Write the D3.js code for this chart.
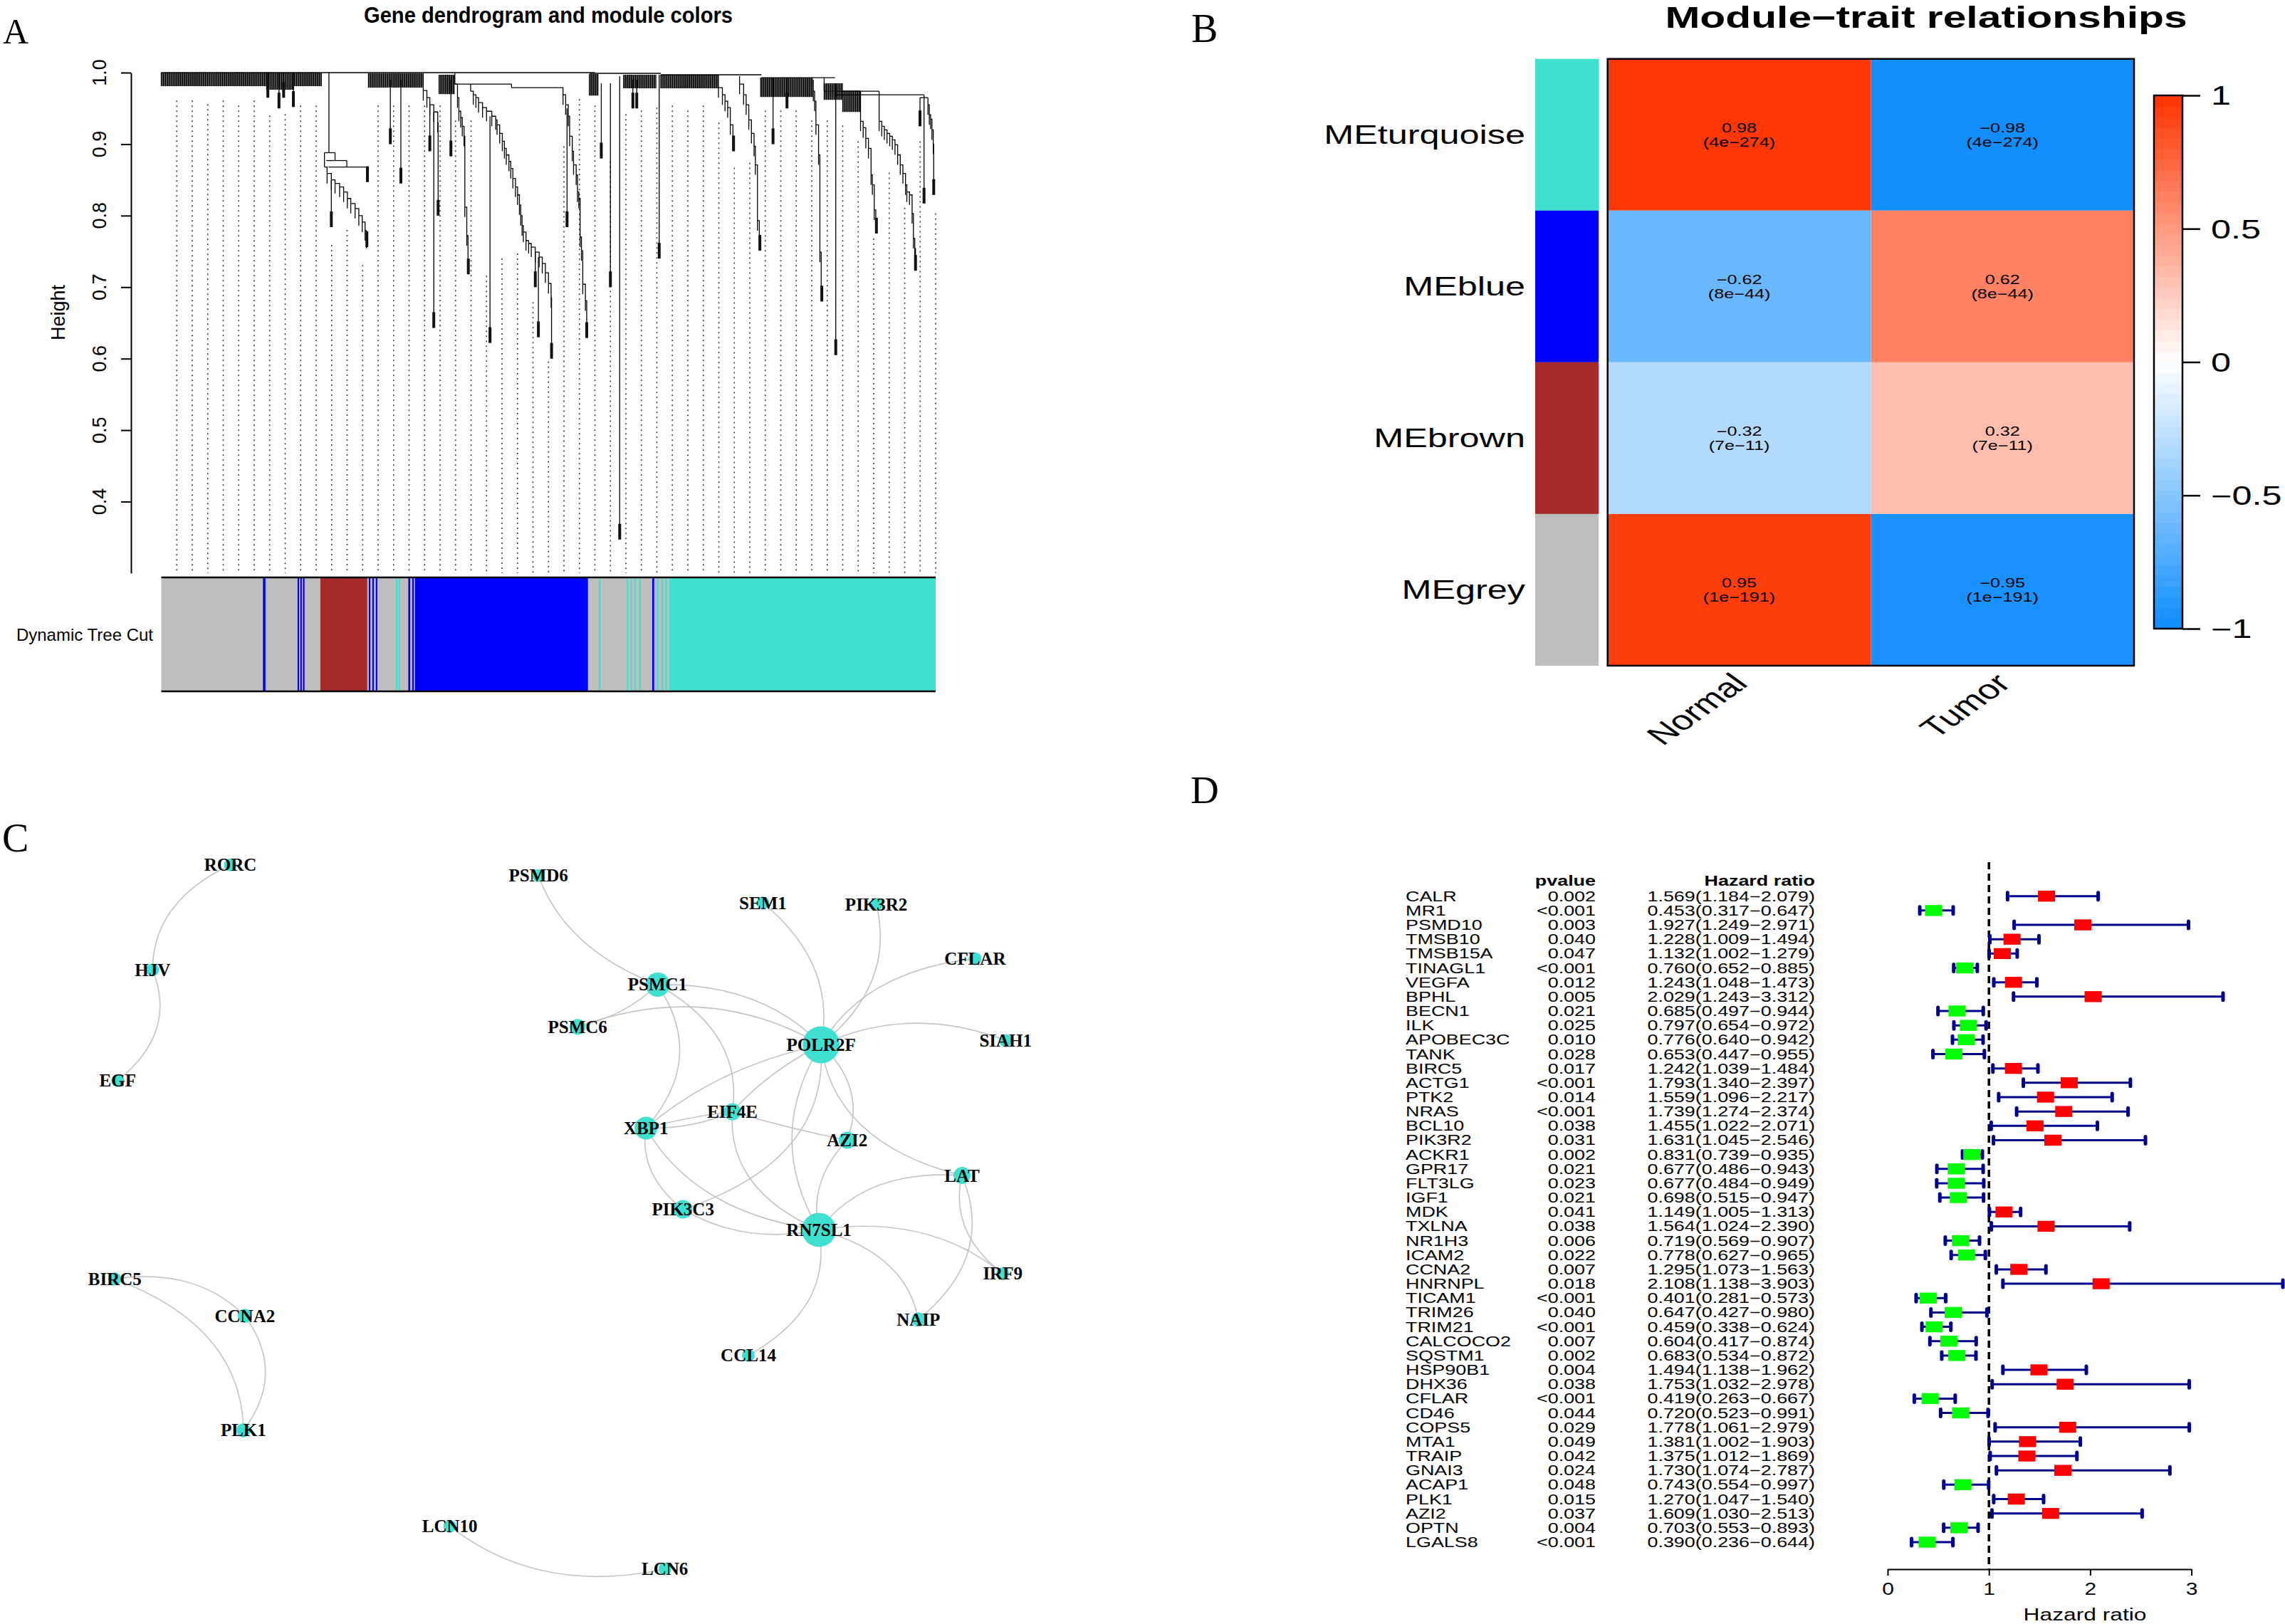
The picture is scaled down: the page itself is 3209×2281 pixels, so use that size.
<!DOCTYPE html>
<html>
<head>
<meta charset="utf-8">
<script src="https://cdn.jsdelivr.net/npm/d3@7"></script>
<style>
  body { margin: 0; background: #fff; }
  svg { display: block; }
</style>
</head>
<body>
<svg id="fig" width="3209" height="2281"></svg>
<script>
// ---------- panel A : dendrogram + module colours ----------
const heightTicks = [0.4, 0.5, 0.6, 0.7, 0.8, 0.9, 1.0];

// top of each of the 50 dotted guide lines (height units)
const guideTops = [0.965, 0.965, 0.96, 0.965, 0.958, 0.965, 0.944, 0.946, 0.958, 0.958,
  0.763, 0.784, 0.735, 0.958, 0.958, 0.958, 0.958, 0.958, 0.937, 0.937,
  0.72, 0.744, 0.751, 0.683, 0.60, 0.901, 0.967, 0.958, 0.88, 0.946,
  0.951, 0.955, 0.958, 0.951, 0.958, 0.934, 0.871, 0.878, 0.951, 0.951,
  0.951, 0.937, 0.937, 0.93, 0.908, 0.772, 0.864, 0.815, 0.908, 0.807];

// dense runs of short leaves: [from, to, merge height, leaf bottom]
const fringe = [
  [0.000, 0.136, 1.000, 0.981], [0.136, 0.172, 1.000, 0.976], [0.172, 0.207, 1.000, 0.981],
  [0.2675, 0.338, 0.999, 0.979], [0.3587, 0.379, 0.997, 0.970],
  [0.5528, 0.565, 0.998, 0.968], [0.597, 0.640, 0.997, 0.978], [0.645, 0.720, 0.997, 0.978],
  [0.774, 0.842, 0.993, 0.966], [0.856, 0.880, 0.985, 0.962], [0.880, 0.903, 0.975, 0.945]
];

// horizontal merges: [from, to, height]
const tops = [
  [0.000, 0.560, 1.000], [0.553, 0.645, 0.999], [0.645, 0.775, 0.997], [0.775, 0.870, 0.993],
  [0.3791, 0.4523, 0.984], [0.4523, 0.5154, 0.979], [0.856, 0.927, 0.974], [0.871, 0.985, 0.969],
  [0.9798, 0.9901, 0.965], [0.2107, 0.2244, 0.888], [0.2130, 0.2396, 0.877], [0.2160, 0.2662, 0.868]
];

// plain connectors: [pos, top, bottom]
const links = [
  [0.2165, 1.0, 0.888], [0.2244, 0.888, 0.877], [0.2396, 0.877, 0.868], [0.2107, 0.888, 0.868],
  [0.3791, 1.0, 0.984], [0.4523, 0.984, 0.979], [0.927, 0.974, 0.969], [0.856, 0.993, 0.974],
  [0.985, 0.969, 0.965], [0.3995, 0.984, 0.974]
];

// single branches ending in a leaf block: [pos, top, bottom]
const drops = [
  [0.1376, 1.0, 0.965], [0.152, 1.0, 0.95], [0.158, 1.0, 0.965], [0.1706, 1.0, 0.952],
  [0.2662, 0.868, 0.847], [0.2196, 0.850, 0.784],
  [0.2958, 0.99, 0.90], [0.3094, 0.99, 0.845], [0.3468, 0.955, 0.89], [0.3519, 0.945, 0.643],
  [0.374, 0.99, 0.883], [0.4245, 0.939, 0.622], [0.4870, 0.742, 0.63], [0.4830, 0.749, 0.70],
  [0.524, 0.95, 0.784], [0.5682, 0.985, 0.88], [0.58, 0.985, 0.70], [0.592, 0.995, 0.347],
  [0.609, 0.99, 0.95], [0.614, 0.99, 0.95], [0.643, 0.997, 0.74],
  [0.790, 0.993, 0.90], [0.808, 0.993, 0.95], [0.871, 0.985, 0.605],
  [0.9798, 0.965, 0.925], [0.985, 0.965, 0.817]
];

// cascading clusters: merge points [pos, height] from top to last leaf
const stairs = [
  [[0.2107, 0.868], [0.2141, 0.859], [0.2196, 0.850], [0.2244, 0.845], [0.2303, 0.840], [0.2355, 0.833],
   [0.2403, 0.824], [0.2447, 0.817], [0.2503, 0.810], [0.2551, 0.800], [0.2595, 0.791], [0.2632, 0.779],
   [0.2650, 0.768], [0.2655, 0.756]],
  [[0.3383, 0.999], [0.3383, 0.975], [0.3430, 0.965], [0.3468, 0.955], [0.3519, 0.945], [0.3570, 0.930], [0.3575, 0.800]],
  [[0.3791, 0.984], [0.3825, 0.965], [0.3843, 0.946], [0.3867, 0.937], [0.3887, 0.925], [0.3910, 0.911],
   [0.3920, 0.812], [0.3945, 0.772], [0.3961, 0.735], [0.3965, 0.718]],
  [[0.3995, 0.974], [0.4029, 0.969], [0.4063, 0.965], [0.4097, 0.958], [0.4149, 0.951], [0.4200, 0.946],
   [0.4268, 0.939], [0.4319, 0.934], [0.4336, 0.927], [0.4370, 0.915], [0.4404, 0.904], [0.4431, 0.894],
   [0.4455, 0.885], [0.4489, 0.876], [0.4513, 0.866], [0.4540, 0.852], [0.4574, 0.840], [0.4601, 0.829],
   [0.4625, 0.815], [0.4642, 0.800], [0.4659, 0.786], [0.4676, 0.777], [0.4710, 0.765], [0.4744, 0.761],
   [0.4778, 0.756], [0.4829, 0.749], [0.4880, 0.742], [0.4920, 0.733], [0.4960, 0.720], [0.5000, 0.705],
   [0.5034, 0.685], [0.5040, 0.600]],
  [[0.5154, 0.979], [0.5188, 0.969], [0.5222, 0.955], [0.5256, 0.939], [0.5273, 0.911], [0.5307, 0.890],
   [0.5324, 0.871], [0.5358, 0.857], [0.5375, 0.833], [0.5392, 0.824], [0.5409, 0.770], [0.5426, 0.751],
   [0.5443, 0.704], [0.5477, 0.681], [0.5494, 0.629]],
  [[0.7195, 0.997], [0.7195, 0.979], [0.7246, 0.969], [0.7280, 0.960], [0.7314, 0.951], [0.7348, 0.927],
   [0.7382, 0.908], [0.7390, 0.890]],
  [[0.7468, 0.995], [0.7468, 0.984], [0.7520, 0.969], [0.7553, 0.955], [0.7587, 0.934], [0.7621, 0.915],
   [0.7655, 0.897], [0.7672, 0.871], [0.7699, 0.793], [0.7723, 0.768], [0.7730, 0.751]],
  [[0.842, 0.99], [0.842, 0.974], [0.8437, 0.960], [0.8454, 0.927], [0.8488, 0.885], [0.8505, 0.749],
   [0.8522, 0.697], [0.8530, 0.680]],
  [[0.903, 0.974], [0.903, 0.932], [0.9064, 0.923], [0.9098, 0.908], [0.9132, 0.894], [0.9166, 0.857],
   [0.9183, 0.843], [0.9207, 0.808], [0.9227, 0.791], [0.9235, 0.775]],
  [[0.927, 0.969], [0.927, 0.932], [0.9304, 0.925], [0.9338, 0.920], [0.9372, 0.915], [0.9407, 0.911],
   [0.9441, 0.906], [0.9475, 0.899], [0.9509, 0.885], [0.9543, 0.871], [0.9577, 0.859], [0.9611, 0.843],
   [0.9628, 0.833], [0.9662, 0.829], [0.9696, 0.803], [0.9713, 0.768], [0.9730, 0.754], [0.9740, 0.723]],
  [[0.9901, 0.965], [0.9901, 0.955], [0.9918, 0.941], [0.9935, 0.935], [0.9952, 0.920], [0.9969, 0.900], [0.9975, 0.829]]
];

const grey = "#BEBEBE", blue = "#0000FF", brown = "#A52A2A", turq = "#40E0D0";
// module colour strip: [from, to, colour]
const colorSegs = [
  [0, 1, grey],
  [0.1313, 0.1345, blue], [0.1760, 0.1780, blue], [0.1795, 0.1815, blue], [0.1830, 0.1850, blue],
  [0.2055, 0.2660, brown],
  [0.2680, 0.2700, blue], [0.2725, 0.2745, blue], [0.2770, 0.2790, blue],
  [0.3030, 0.3050, turq], [0.3065, 0.3085, turq],
  [0.3190, 0.3215, blue], [0.3240, 0.3260, blue], [0.3275, 0.5510, blue],
  [0.5650, 0.5670, turq], [0.6010, 0.6030, turq], [0.6060, 0.6080, turq], [0.6110, 0.6130, turq],
  [0.6170, 0.6190, turq], [0.6340, 0.6365, blue],
  [0.6400, 0.6420, turq], [0.6460, 0.6480, turq], [0.6510, 0.6530, turq], [0.6560, 1.0, turq]
];

// ---------- panel B : module-trait heatmap ----------
const modules = ["MEturquoise", "MEblue", "MEbrown", "MEgrey"];
const moduleColors = [turq, blue, brown, grey];
const traits = ["Normal", "Tumor"];
const corNormal = [0.98, -0.62, -0.32, 0.95];
const corTumor = [-0.98, 0.62, 0.32, -0.95];
const pNormal = ["4e\u2212274", "8e\u221244", "7e\u221211", "1e\u2212191"];
const pTumor = ["4e\u2212274", "8e\u221244", "7e\u221211", "1e\u2212191"];
const keyTicks = [-1, -0.5, 0, 0.5, 1];

// ---------- panel C : network ----------
const nodes = [
  { id: "RORC", x: 317, y: 128, r: 9 }, { id: "HJV", x: 210, y: 327, r: 9 },
  { id: "EGF", x: 162, y: 537, r: 9 }, { id: "PSMD6", x: 741, y: 148, r: 9 },
  { id: "SEM1", x: 1050, y: 200, r: 9 }, { id: "PIK3R2", x: 1206, y: 203, r: 9 },
  { id: "CFLAR", x: 1342, y: 306, r: 9 }, { id: "PSMC1", x: 905, y: 355, r: 17 },
  { id: "PSMC6", x: 795, y: 435, r: 11 }, { id: "POLR2F", x: 1130, y: 469, r: 26 },
  { id: "SIAH1", x: 1384, y: 461, r: 9 }, { id: "EIF4E", x: 1008, y: 596, r: 12 },
  { id: "XBP1", x: 889, y: 627, r: 16 }, { id: "AZI2", x: 1166, y: 650, r: 12 },
  { id: "LAT", x: 1324, y: 717, r: 12 }, { id: "PIK3C3", x: 940, y: 781, r: 13 },
  { id: "RN7SL1", x: 1127, y: 820, r: 24 }, { id: "IRF9", x: 1380, y: 903, r: 9 },
  { id: "NAIP", x: 1264, y: 990, r: 10 }, { id: "CCL14", x: 1030, y: 1058, r: 9 },
  { id: "BIRC5", x: 158, y: 913, r: 9 }, { id: "CCNA2", x: 337, y: 983, r: 10 },
  { id: "PLK1", x: 335, y: 1200, r: 10 }, { id: "LCN10", x: 619, y: 1382, r: 9 },
  { id: "LCN6", x: 915, y: 1463, r: 9 }
];
// [source, target, bend]
const edges = [
  ["RORC", "HJV", 0.27], ["HJV", "EGF", -0.28], ["PSMD6", "PSMC1", 0.22], ["SEM1", "POLR2F", -0.23],
  ["PIK3R2", "POLR2F", -0.245], ["CFLAR", "POLR2F", 0.28], ["PSMC1", "POLR2F", -0.27],
  ["PSMC6", "POLR2F", -0.32], ["PSMC6", "PSMC1", 0.16], ["SIAH1", "POLR2F", 0.29],
  ["PSMC1", "XBP1", -0.28], ["PSMC1", "EIF4E", -0.28], ["POLR2F", "EIF4E", 0.1],
  ["POLR2F", "XBP1", 0.15], ["POLR2F", "AZI2", -0.25], ["POLR2F", "LAT", 0.32],
  ["POLR2F", "RN7SL1", 0.22], ["POLR2F", "PIK3C3", -0.34], ["XBP1", "EIF4E", 0.15],
  ["XBP1", "EIF4E", -0.05], ["EIF4E", "AZI2", 0.03], ["EIF4E", "RN7SL1", 0.3],
  ["XBP1", "PIK3C3", 0.23], ["XBP1", "RN7SL1", 0.27], ["PIK3C3", "RN7SL1", 0.26],
  ["AZI2", "RN7SL1", 0.2], ["LAT", "RN7SL1", 0.33], ["LAT", "NAIP", -0.28], ["LAT", "IRF9", 0.25],
  ["RN7SL1", "IRF9", -0.29], ["RN7SL1", "NAIP", -0.3], ["RN7SL1", "CCL14", -0.29],
  ["BIRC5", "CCNA2", -0.32], ["BIRC5", "PLK1", -0.3], ["CCNA2", "PLK1", -0.27], ["LCN10", "LCN6", 0.31]
];

// ---------- panel D : Cox forest plot ----------
const genes = ["CALR", "MR1", "PSMD10", "TMSB10", "TMSB15A", "TINAGL1", "VEGFA", "BPHL", "BECN1", "ILK",
  "APOBEC3C", "TANK", "BIRC5", "ACTG1", "PTK2", "NRAS", "BCL10", "PIK3R2", "ACKR1", "GPR17", "FLT3LG",
  "IGF1", "MDK", "TXLNA", "NR1H3", "ICAM2", "CCNA2", "HNRNPL", "TICAM1", "TRIM26", "TRIM21", "CALCOCO2",
  "SQSTM1", "HSP90B1", "DHX36", "CFLAR", "CD46", "COPS5", "MTA1", "TRAIP", "GNAI3", "ACAP1", "PLK1",
  "AZI2", "OPTN", "LGALS8"];
const pvals = ["0.002", "<0.001", "0.003", "0.040", "0.047", "<0.001", "0.012", "0.005", "0.021", "0.025",
  "0.010", "0.028", "0.017", "<0.001", "0.014", "<0.001", "0.038", "0.031", "0.002", "0.021", "0.023",
  "0.021", "0.041", "0.038", "0.006", "0.022", "0.007", "0.018", "<0.001", "0.040", "<0.001", "0.007",
  "0.002", "0.004", "0.038", "<0.001", "0.044", "0.029", "0.049", "0.042", "0.024", "0.048", "0.015",
  "0.037", "0.004", "<0.001"];
const hr = [1.569, 0.453, 1.927, 1.228, 1.132, 0.760, 1.243, 2.029, 0.685, 0.797, 0.776, 0.653, 1.242,
  1.793, 1.559, 1.739, 1.455, 1.631, 0.831, 0.677, 0.677, 0.698, 1.149, 1.564, 0.719, 0.778, 1.295,
  2.108, 0.401, 0.647, 0.459, 0.604, 0.683, 1.494, 1.753, 0.419, 0.720, 1.778, 1.381, 1.375, 1.730,
  0.743, 1.270, 1.609, 0.703, 0.390];
const hrLow = [1.184, 0.317, 1.249, 1.009, 1.002, 0.652, 1.048, 1.243, 0.497, 0.654, 0.640, 0.447, 1.039,
  1.340, 1.096, 1.274, 1.022, 1.045, 0.739, 0.486, 0.484, 0.515, 1.005, 1.024, 0.569, 0.627, 1.073,
  1.138, 0.281, 0.427, 0.338, 0.417, 0.534, 1.138, 1.032, 0.263, 0.523, 1.061, 1.002, 1.012, 1.074,
  0.554, 1.047, 1.030, 0.553, 0.236];
const hrHigh = [2.079, 0.647, 2.971, 1.494, 1.279, 0.885, 1.473, 3.312, 0.944, 0.972, 0.942, 0.955, 1.484,
  2.397, 2.217, 2.374, 2.071, 2.546, 0.935, 0.943, 0.949, 0.947, 1.313, 2.390, 0.907, 0.965, 1.563,
  3.903, 0.573, 0.980, 0.624, 0.874, 0.872, 1.962, 2.978, 0.667, 0.991, 2.979, 1.903, 1.869, 2.787,
  0.997, 1.540, 2.513, 0.893, 0.644];
const hrTicks = [0, 1, 2, 3];

// =====================================================================
const svg = d3.select("#fig");
const sans = "'Liberation Sans', Arial, sans-serif";
const serif = "'Liberation Serif', 'Times New Roman', serif";

// panel letters
const letters = [["A", 4, 61, 50], ["B", 1673, 59, 56], ["C", 3, 1196, 56], ["D", 1672, 1128, 55]];
svg.selectAll(".panel-letter").data(letters).join("text")
  .attr("x", d => d[1]).attr("y", d => d[2])
  .attr("font-family", serif).attr("font-size", d => d[3])
  .text(d => d[0]);

// ---------------- panel A ----------------
const xA = d3.scaleLinear().domain([0, 1]).range([226.5, 1314]);
const yA = d3.scaleLinear().domain([0.3, 1.0]).range([805, 102]);
const gA = svg.append("g");

gA.append("text").attr("x", 770).attr("y", 32)
  .attr("text-anchor", "middle").attr("font-family", sans).attr("font-weight", "bold")
  .attr("font-size", 31).attr("transform", "translate(770,0) scale(0.94,1) translate(-770,0)")
  .text("Gene dendrogram and module colors");

const axA = gA.append("g").attr("transform", "translate(184,0)")
  .call(d3.axisLeft(yA).tickValues(heightTicks).tickSize(14).tickSizeOuter(0).tickFormat(""));
axA.selectAll("path, line").attr("stroke", "#000").attr("stroke-width", 2);

gA.selectAll(".ylab").data(heightTicks).join("text")
  .attr("transform", d => `translate(149,${yA(d)}) rotate(-90)`)
  .attr("text-anchor", "middle").attr("font-family", sans).attr("font-size", 27)
  .text(d3.format(".1f"));

gA.append("text").attr("transform", "translate(91,439) rotate(-90)")
  .attr("text-anchor", "middle").attr("font-family", sans).attr("font-size", 27).text("Height");

// guide lines
gA.selectAll(".guide").data(guideTops).join("line")
  .attr("x1", (d, i) => xA((i + 1) / 50)).attr("x2", (d, i) => xA((i + 1) / 50))
  .attr("y1", d => yA(d) + 4).attr("y2", yA(0.3))
  .attr("stroke", "#3a3a3a").attr("stroke-width", 1.6).attr("stroke-dasharray", "2,5");

const dend = gA.append("g").attr("stroke", "#000").attr("stroke-width", 1.3).attr("fill", "none");
const leafStep = 1 / 720;
fringe.forEach(([f0, f1, ht, hb]) => {
  dend.append("g").selectAll("line").data(d3.range(f0, f1, leafStep)).join("line")
    .attr("x1", d => xA(d)).attr("x2", d => xA(d))
    .attr("y1", yA(ht)).attr("y2", yA(hb));
});
dend.selectAll(".top").data(tops).join("line")
  .attr("x1", d => xA(d[0])).attr("x2", d => xA(d[1]))
  .attr("y1", d => yA(d[2])).attr("y2", d => yA(d[2]));
dend.selectAll(".link").data(links).join("line")
  .attr("x1", d => xA(d[0])).attr("x2", d => xA(d[0]))
  .attr("y1", d => yA(d[1])).attr("y2", d => yA(d[2]));
dend.selectAll(".drop").data(drops).join("line")
  .attr("x1", d => xA(d[0])).attr("x2", d => xA(d[0]))
  .attr("y1", d => yA(d[1])).attr("y2", d => yA(d[2]));

const ends = drops.map(d => [d[0], d[2]]);
stairs.forEach(pts => {
  const p = d3.path();
  for (let i = 0; i < pts.length - 1; i++) {
    const [f, h] = pts[i], [fn, hn] = pts[i + 1];
    p.moveTo(xA(f), yA(h)); p.lineTo(xA(fn), yA(h)); p.lineTo(xA(fn), yA(hn));
    if (i > 0) { p.moveTo(xA(f), yA(h)); p.lineTo(xA(f), yA(h - 0.014)); }
  }
  dend.append("path").attr("d", p.toString());
  ends.push(pts[pts.length - 1]);
});
gA.selectAll(".leafend").data(ends).join("rect")
  .attr("x", d => xA(d[0]) - 2).attr("width", 4)
  .attr("y", d => yA(d[1] + 0.022)).attr("height", d => yA(d[1]) - yA(d[1] + 0.022))
  .attr("fill", "#111");

// module colour strip
const stripTop = 811, stripBot = 971;
gA.selectAll(".seg").data(colorSegs).join("rect")
  .attr("x", d => xA(d[0])).attr("width", d => Math.max(2, xA(d[1]) - xA(d[0])))
  .attr("y", stripTop).attr("height", stripBot - stripTop)
  .attr("fill", d => d[2]);
gA.selectAll(".stripline").data([stripTop, stripBot]).join("line")
  .attr("x1", xA(0)).attr("x2", xA(1)).attr("y1", d => d).attr("y2", d => d)
  .attr("stroke", "#000").attr("stroke-width", 2.5);
gA.append("text").attr("x", 215).attr("y", 900).attr("text-anchor", "end")
  .attr("font-family", "'Liberation Sans Narrow', 'Arial Narrow', sans-serif").attr("font-size", 24)
  .text("Dynamic Tree Cut");

// ---------------- panel B ----------------
const gB = svg.append("g");
const sxB = 1.4;
const yB = d3.scaleBand().domain(modules).range([82.7, 935]);
const xB = d3.scaleBand().domain(traits).range([2257.7, 2997]);
const heat = d3.scaleLinear().domain([-1, 0, 1]).range(["#0D8CFF", "#FFFFFF", "#FF3300"]);
const cells = modules.flatMap((m, i) => traits.map((t, j) => ({
  m, t, r: j === 0 ? corNormal[i] : corTumor[i], p: j === 0 ? pNormal[i] : pTumor[i]
})));

gB.append("text")
  .attr("transform", `translate(2705,39) scale(${sxB},1)`)
  .attr("text-anchor", "middle").attr("font-family", sans).attr("font-weight", "bold")
  .attr("font-size", 42).text("Module\u2212trait relationships");

gB.selectAll(".mod").data(modules).join("rect")
  .attr("x", 2156).attr("width", 89)
  .attr("y", d => yB(d)).attr("height", yB.bandwidth())
  .attr("fill", (d, i) => moduleColors[i]);

gB.selectAll(".cell").data(cells).join("rect")
  .attr("x", d => xB(d.t)).attr("width", xB.bandwidth())
  .attr("y", d => yB(d.m)).attr("height", yB.bandwidth())
  .attr("fill", d => heat(d.r));
gB.append("rect").attr("x", 2257.7).attr("y", 82.7).attr("width", 2997 - 2257.7).attr("height", 935 - 82.7)
  .attr("fill", "none").attr("stroke", "#000").attr("stroke-width", 2.5);

const f2 = d3.format(".2f");
const cellText = gB.selectAll(".ctext").data(cells).join("g")
  .attr("transform", d => `translate(${xB(d.t) + xB.bandwidth() / 2},${yB(d.m) + yB.bandwidth() / 2}) scale(${sxB},1)`)
  .attr("font-family", sans).attr("font-size", 18).attr("text-anchor", "middle");
cellText.append("text").attr("y", -3.5).text(d => f2(d.r));
cellText.append("text").attr("y", 17).text(d => `(${d.p})`);

gB.selectAll(".rowlab").data(modules).join("text")
  .attr("transform", d => `translate(2142,${yB(d) + yB.bandwidth() / 2 + 13}) scale(${sxB},1)`)
  .attr("text-anchor", "end").attr("font-family", sans).attr("font-size", 36).text(d => d);

gB.selectAll(".collab").data(traits).join("text")
  .attr("transform", d => `translate(${xB(d) + xB.bandwidth() / 2 + 14},962) scale(${sxB},1) rotate(-45)`)
  .attr("text-anchor", "end").attr("font-family", sans).attr("font-size", 38).text(d => d);

// colour key
const yKey = d3.scaleLinear().domain([-1, 1]).range([883, 134]);
const keySteps = d3.range(-1, 1 - 1e-9, 0.04);
gB.selectAll(".key").data(keySteps).join("rect")
  .attr("x", 3025).attr("width", 40)
  .attr("y", d => yKey(d + 0.04)).attr("height", d => yKey(d) - yKey(d + 0.04) + 0.6)
  .attr("fill", d => heat(d + 0.02));
gB.append("rect").attr("x", 3025).attr("y", 134).attr("width", 40).attr("height", 883 - 134)
  .attr("fill", "none").attr("stroke", "#000").attr("stroke-width", 2.5);
const keyAx = gB.append("g").attr("transform", "translate(3065,0)")
  .call(d3.axisRight(yKey).tickValues(keyTicks).tickSize(25).tickSizeOuter(0)
    .tickFormat(d => d === 0 ? "0" : d3.format("")(d)));
keyAx.select(".domain").remove();
keyAx.selectAll("line").attr("stroke", "#000").attr("stroke-width", 2.5);
keyAx.selectAll("text").attr("x", 0).attr("dy", "0.36em")
  .attr("transform", `translate(40,0) scale(${sxB},1)`)
  .attr("font-family", sans).attr("font-size", 36).attr("fill", "#000");

// ---------------- panel C ----------------
const gC = svg.append("g");
const xC = d3.scaleLinear().domain([0, 1568]).range([0, 1600]);
const yC = d3.scaleLinear().domain([0, 1568]).range([1120, 2281.5]);
const byId = new Map(nodes.map(n => [n.id, n]));
gC.selectAll(".edge").data(edges).join("path")
  .attr("d", ([s, t, b]) => {
    const a = byId.get(s), c = byId.get(t);
    const dx = c.x - a.x, dy = c.y - a.y;
    const qx = (a.x + c.x) / 2 - dy * b, qy = (a.y + c.y) / 2 + dx * b;
    const p = d3.path();
    p.moveTo(xC(a.x), yC(a.y));
    p.quadraticCurveTo(xC(qx), yC(qy), xC(c.x), yC(c.y));
    return p.toString();
  })
  .attr("fill", "none").attr("stroke", "#C4C4C4").attr("stroke-width", 1.6);
gC.selectAll(".node").data(nodes).join("circle")
  .attr("cx", d => xC(d.x)).attr("cy", d => yC(d.y)).attr("r", d => d.r)
  .attr("fill", turq);
gC.selectAll(".nlab").data(nodes).join("text")
  .attr("x", d => xC(d.x)).attr("y", d => yC(d.y)).attr("dy", "0.34em")
  .attr("text-anchor", "middle").attr("font-family", serif).attr("font-weight", "bold")
  .attr("font-size", 25).text(d => d.id);

// ---------------- panel D ----------------
const gD = svg.append("g");
const sxD = 1.38;
const yD = d3.scalePoint().domain(genes).range([1258.7, 2166]);
const xD = d3.scaleLinear().domain([0, 3]).range([2651, 3077.6]);
const f3 = d3.format(".3f");
const rows = genes.map((g, i) => ({ g, p: pvals[i], hr: hr[i], lo: hrLow[i], hi: hrHigh[i] }));

const hdr = [["pvalue", 2241], ["Hazard ratio", 2549]];
gD.selectAll(".hdr").data(hdr).join("text")
  .attr("transform", d => `translate(${d[1]},1244) scale(${sxD},1)`)
  .attr("text-anchor", "end").attr("font-family", sans).attr("font-weight", "bold")
  .attr("font-size", 19.5).text(d => d[0]);

const row = gD.selectAll(".row").data(rows).join("g")
  .attr("font-family", sans).attr("font-size", 19.5);
row.append("text")
  .attr("transform", d => `translate(1974,${yD(d.g)}) scale(${sxD},1)`).attr("dy", "0.36em")
  .text(d => d.g);
row.append("text")
  .attr("transform", d => `translate(2241,${yD(d.g)}) scale(${sxD},1)`).attr("dy", "0.36em")
  .attr("text-anchor", "end").text(d => d.p);
row.append("text")
  .attr("transform", d => `translate(2549,${yD(d.g)}) scale(${sxD},1)`).attr("dy", "0.36em")
  .attr("text-anchor", "end")
  .text(d => `${f3(d.hr)}(${f3(d.lo)}\u2212${f3(d.hi)})`);

// reference line at HR = 1
gD.append("line").attr("x1", xD(1)).attr("x2", xD(1)).attr("y1", 1211).attr("y2", 2204)
  .attr("stroke", "#000").attr("stroke-width", 3.5).attr("stroke-dasharray", "10,6");

gD.selectAll(".ci").data(rows).join("line")
  .attr("x1", d => xD(d.lo)).attr("x2", d => xD(d.hi))
  .attr("y1", d => yD(d.g)).attr("y2", d => yD(d.g))
  .attr("stroke", "#00008B").attr("stroke-width", 3);
const caps = rows.flatMap(d => [[d.lo, d.g], [d.hi, d.g]]);
gD.selectAll(".cap").data(caps).join("line")
  .attr("x1", d => xD(d[0])).attr("x2", d => xD(d[0]))
  .attr("y1", d => yD(d[1]) - 5).attr("y2", d => yD(d[1]) + 5)
  .attr("stroke", "#00008B").attr("stroke-width", 5).attr("stroke-linecap", "round");
gD.selectAll(".box").data(rows).join("rect")
  .attr("x", d => xD(d.hr) - 12).attr("width", 24)
  .attr("y", d => yD(d.g) - 7.7).attr("height", 15.4)
  .attr("fill", d => d.hr > 1 ? "#FF0000" : "#00FF00");

const axD = gD.append("g").attr("transform", "translate(0,2204)")
  .call(d3.axisBottom(xD).tickValues(hrTicks).tickSize(9).tickSizeOuter(0).tickFormat(d3.format("d")));
axD.selectAll("path, line").attr("stroke", "#000").attr("stroke-width", 2);
axD.selectAll("text").attr("y", 0).attr("dy", "0.36em")
  .attr("transform", "translate(0,27) scale(1.25,1)")
  .attr("font-family", sans).attr("font-size", 24).attr("fill", "#000");
gD.append("text").attr("transform", `translate(2928,2276) scale(${sxD},1)`)
  .attr("text-anchor", "middle").attr("font-family", sans).attr("font-size", 23).text("Hazard ratio");
</script>
</body>
</html>
